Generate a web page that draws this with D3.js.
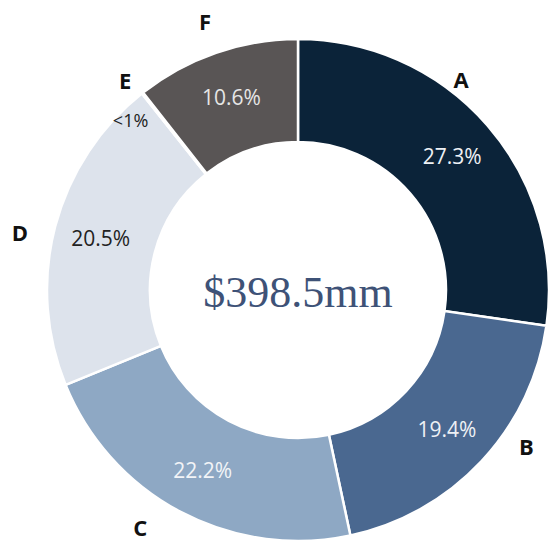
<!DOCTYPE html>
<html>
<head>
<meta charset="utf-8">
<script src="https://cdn.jsdelivr.net/npm/d3@7"></script>
<style>
  html, body { margin: 0; padding: 0; background: #ffffff; }
  svg { display: block; }
</style>
</head>
<body>
<svg id="chart" width="550" height="548"></svg>
<script>
// ---- data ----
const categories = ["A", "B", "C", "D", "E", "F"];
const shares = [27.3, 19.4, 22.2, 20.5, 0.1, 10.6];
const shareLabels = ["27.3%", "19.4%", "22.2%", "20.5%", "<1%", "10.6%"];
const totalLabel = "$398.5mm";

// ---- layout / style ----
const W = 550, H = 548;
const cx = 298, cy = 290;
const outerR = 251, innerR = 148;
const colors = ["#0b2339", "#4a6890", "#8ea8c4", "#dde3ec", "#dde3ec", "#595555"];
const pctColors = ["#eef1f5", "#eef1f5", "#f2f4f7", "#222222", "#222222", "#e6e6e6"];
// category label placement (angle in degrees clockwise from top, radius)
const catPlace = [[37.8, 266], [124.5, 277], [213.5, 286], [281.6, 284], [320.4, 271], [340.9, 284]];

const svg = d3.select("#chart");
const g = svg.append("g").attr("transform", `translate(${cx},${cy})`);

const pie = d3.pie().sort(null).value(d => d.v).startAngle(0).endAngle(2 * Math.PI);
const data = categories.map((c, i) => ({ c, v: shares[i], lab: shareLabels[i], i }));
const arcs = pie(data);
const arc = d3.arc().innerRadius(innerR).outerRadius(outerR);

g.selectAll("path.slice")
  .data(arcs)
  .join("path")
  .attr("class", "slice")
  .attr("d", arc)
  .attr("fill", d => colors[d.data.i])
  .attr("stroke", "#ffffff")
  .attr("stroke-width", 2.5)
  .attr("stroke-linejoin", "miter");

// percentage labels
const labelArc = d3.arc().innerRadius(204).outerRadius(204);
g.selectAll("text.pct")
  .data(arcs.filter(d => d.data.c !== "E"))
  .join("text")
  .attr("class", "pct")
  .attr("transform", d => `translate(${labelArc.centroid(d)})`)
  .attr("text-anchor", "middle")
  .attr("dy", "0.36em")
  .attr("font-family", "'Open Sans', sans-serif")
  .attr("font-size", 21)
  .attr("fill", d => pctColors[d.data.i])
  .text(d => d.data.lab);

// small slice label
const eArc = arcs.find(d => d.data.c === "E");
const eA = 315.3 * Math.PI / 180, eR = 238;
g.append("text")
  .attr("x", eR * Math.sin(eA))
  .attr("y", -eR * Math.cos(eA))
  .attr("text-anchor", "middle")
  .attr("dy", "0.36em")
  .attr("font-family", "'Open Sans', sans-serif")
  .attr("font-size", 18)
  .attr("fill", pctColors[eArc.data.i])
  .text(eArc.data.lab);

// category labels
g.selectAll("text.cat")
  .data(arcs)
  .join("text")
  .attr("class", "cat")
  .attr("x", d => catPlace[d.data.i][1] * Math.sin(catPlace[d.data.i][0] * Math.PI / 180))
  .attr("y", d => -catPlace[d.data.i][1] * Math.cos(catPlace[d.data.i][0] * Math.PI / 180))
  .attr("text-anchor", "middle")
  .attr("dy", "0.36em")
  .attr("font-family", "'Open Sans', sans-serif")
  .attr("font-weight", "bold")
  .attr("font-size", 22)
  .attr("fill", "#111111")
  .text(d => d.data.c);

// center total
g.append("text")
  .attr("x", 0)
  .attr("y", 17)
  .attr("text-anchor", "middle")
  .attr("font-family", "'Liberation Serif', 'DejaVu Serif', serif")
  .attr("font-size", 44)
  .attr("fill", "#3e5277")
  .text(totalLabel);
</script>
</body>
</html>
